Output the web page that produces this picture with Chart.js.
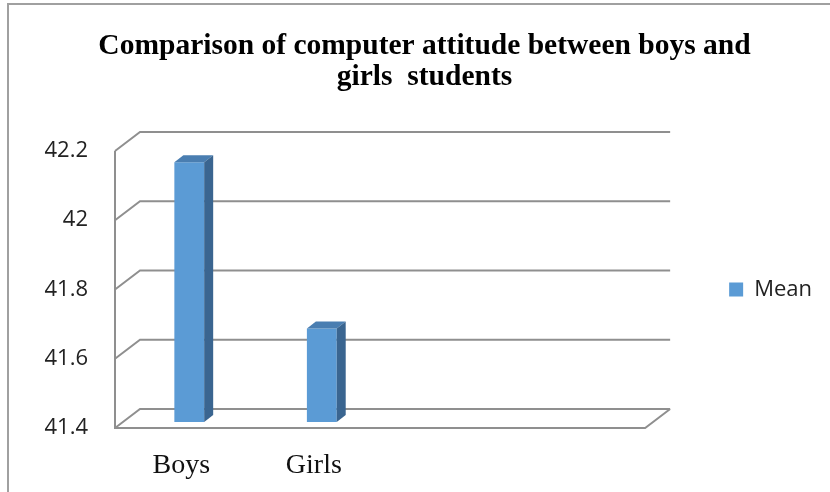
<!DOCTYPE html>
<html>
<head>
<meta charset="utf-8">
<script src="https://cdn.jsdelivr.net/npm/chart.js@4"></script>
<style>
  html, body { margin: 0; padding: 0; background: #fff; }
  #wrap { width: 830px; height: 492px; }
</style>
</head>
<body>
<div id="wrap"><canvas id="chart"></canvas></div>
<script>
// data
const categories = ['Boys', 'Girls', '', '']
const meanValues = [42.15, 41.67, null, null]
const seriesName = 'Mean'
const titleLines = ['Comparison of computer attitude between boys and', 'girls  students']
const yMin = 41.4
const yMax = 42.2
const yStep = 0.2

// fake 3d depth
const wallDx = 25, wallDy = -19
const barShiftX = 8, barShiftY = -6
const barDepthX = 9, barDepthY = -7
const gridColor = '#8f8f8f'

const threeD = {
    id: 'threeD',
    beforeDraw(chart) {
        const ctx = chart.ctx
        ctx.save()
        ctx.strokeStyle = '#a0a0a0'
        ctx.lineWidth = 2
        ctx.beginPath()
        ctx.moveTo(8, 492)
        ctx.lineTo(8, 4)
        ctx.lineTo(830, 4)
        ctx.stroke()
        ctx.restore()
    },
    beforeDatasetsDraw(chart) {
        const ctx = chart.ctx
        const a = chart.chartArea
        const y = chart.scales.y
        ctx.save()
        ctx.strokeStyle = gridColor
        ctx.lineWidth = 2
        ctx.beginPath()
        y.ticks.forEach(t => {
            const py = y.getPixelForValue(t.value)
            ctx.moveTo(a.left, py)
            ctx.lineTo(a.left + wallDx, py + wallDy)
            ctx.lineTo(a.right + wallDx, py + wallDy)
        })
        // front left edge and floor
        ctx.moveTo(a.left, a.top)
        ctx.lineTo(a.left, a.bottom)
        ctx.lineTo(a.right, a.bottom)
        ctx.lineTo(a.right + wallDx, a.bottom + wallDy)
        ctx.stroke()
        ctx.restore()

        ctx.save()
        ctx.translate(barShiftX, barShiftY)
    },
    afterDatasetsDraw(chart) {
        const ctx = chart.ctx
        const base = chart.scales.y.getPixelForValue(yMin)
        chart.getDatasetMeta(0).data.forEach((bar, i) => {
            if (meanValues[i] == null) return
            const x0 = bar.x - bar.width / 2
            const x1 = bar.x + bar.width / 2
            const top = bar.y
            ctx.fillStyle = '#4a7eb1'
            ctx.beginPath()
            ctx.moveTo(x0, top)
            ctx.lineTo(x1, top)
            ctx.lineTo(x1 + barDepthX, top + barDepthY)
            ctx.lineTo(x0 + barDepthX, top + barDepthY)
            ctx.closePath()
            ctx.fill()
            ctx.fillStyle = '#3a6590'
            ctx.beginPath()
            ctx.moveTo(x1, top)
            ctx.lineTo(x1 + barDepthX, top + barDepthY)
            ctx.lineTo(x1 + barDepthX, base + barDepthY)
            ctx.lineTo(x1, base)
            ctx.closePath()
            ctx.fill()
        })
        ctx.restore()
    }
}

new Chart('chart', {
    type: 'bar',
    data: {
        labels: categories,
        datasets: [
            {
                label: seriesName,
                data: meanValues,
                backgroundColor: '#5b9bd5',
                borderWidth: 0,
                categoryPercentage: 1,
                barPercentage: 0.225,
            },
        ],
    },
    options: {
        responsive: true,
        maintainAspectRatio: false,
        animation: false,
        events: [],
        layout: { padding: { left: 27, right: 8, top: 0, bottom: 11 } },
        plugins: {
            title: {
                display: true,
                text: titleLines,
                color: '#000',
                font: { family: 'Liberation Serif', size: 29.5, weight: 'bold', lineHeight: 1.05 },
                padding: { top: 31, bottom: 58 },
            },
            legend: {
                position: 'right',
                fullSize: false,
                labels: {
                    boxWidth: 14,
                    boxHeight: 14,
                    padding: 10,
                    color: '#222',
                    font: { family: 'Open Sans', size: 22 },
                },
            },
            tooltip: { enabled: false },
        },
        scales: {
            x: {
                offset: true,
                grid: { display: false },
                border: { display: false },
                afterFit: s => { s.height = 53 },
                ticks: {
                    color: '#111',
                    padding: 13,
                    maxRotation: 0,
                    font: { family: 'Liberation Serif', size: 28 },
                },
            },
            y: {
                min: yMin,
                max: yMax,
                grid: { display: false, drawTicks: false },
                border: { display: false },
                afterFit: s => { s.width = 88 },
                ticks: {
                    stepSize: yStep,
                    padding: 27,
                    color: '#222',
                    font: { family: 'Open Sans', size: 22 },
                    callback: v => String(+v.toFixed(1)),
                },
            },
            gap: {
                position: 'right',
                display: true,
                grid: { display: false, drawTicks: false },
                border: { display: false },
                ticks: { display: false },
                afterFit: s => { s.width = 74 },
            },
        },
    },
    plugins: [threeD],
})
</script>
</body>
</html>
